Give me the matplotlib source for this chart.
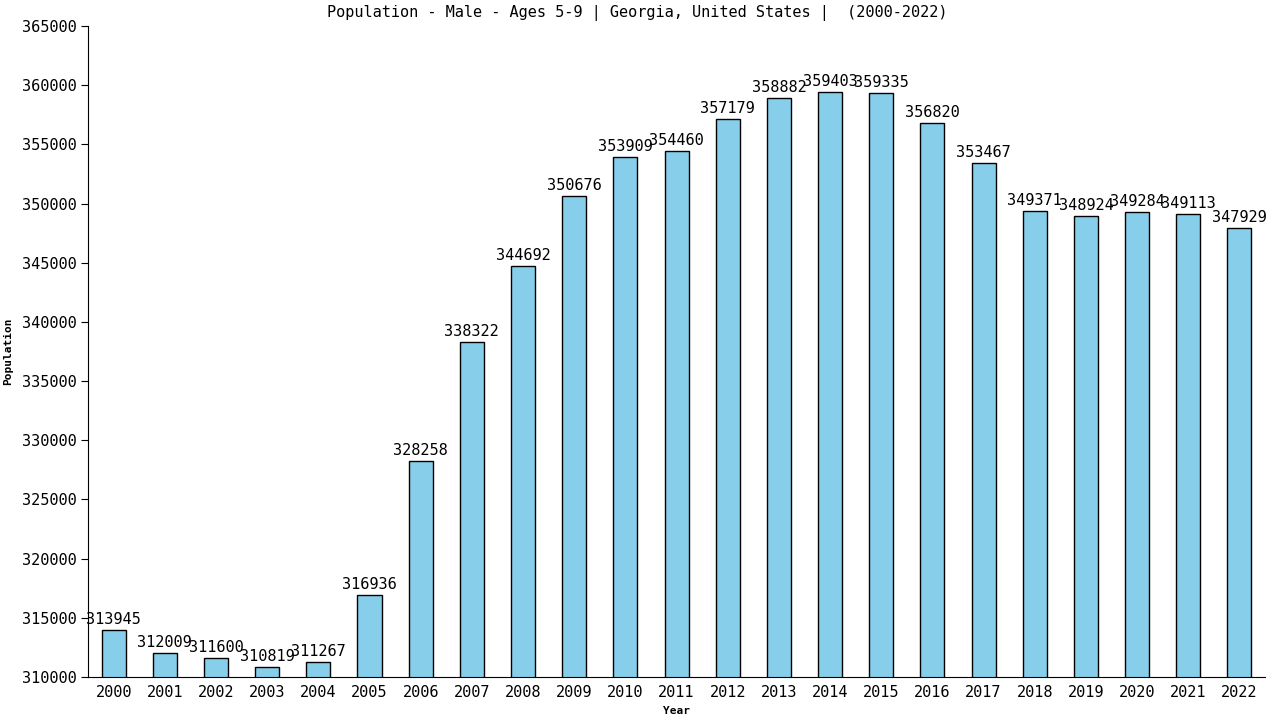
import matplotlib
matplotlib.use('Agg')
import matplotlib.pyplot as plt

years = [str(y) for y in range(2000, 2023)]
population = [313945, 312009, 311600, 310819, 311267, 316936, 328258, 338322,
              344692, 350676, 353909, 354460, 357179, 358882, 359403, 359335,
              356820, 353467, 349371, 348924, 349284, 349113, 347929]

plt.rcParams['font.family'] = 'DejaVu Sans Mono'

fig = plt.figure(figsize=(12.8, 7.2), dpi=100)
ax = fig.add_axes([0.0688, 0.0597, 0.9195, 0.9042])

x = range(len(years))
ax.bar(x, population, width=0.47, color='#87ceeb', edgecolor='black', linewidth=1)
for i, v in zip(x, population):
    ax.text(i, v + 250, str(v), ha='center', va='bottom', fontsize=11)

ax.set_xlim(-0.5, len(years) - 0.5)
ax.set_ylim(310000, 365000)
ax.set_yticks(range(310000, 365001, 5000))
ax.set_xticks(list(x))
ax.set_xticklabels(years, fontsize=11)
ax.tick_params(axis='y', labelsize=11, length=5, direction='out')
ax.tick_params(axis='x', length=0, pad=6)
for s in ['top', 'right']:
    ax.spines[s].set_visible(False)

fig.text(0.498, 0.982, 'Population - Male - Ages 5-9 | Georgia, United States |  (2000-2022)',
         fontsize=11, ha='center', va='center')
ax.set_xlabel('Year', fontsize=8, fontweight='bold', labelpad=4)
ax.set_ylabel('Population', fontsize=8, fontweight='bold', labelpad=6)

fig.savefig('out.png', dpi=100)
